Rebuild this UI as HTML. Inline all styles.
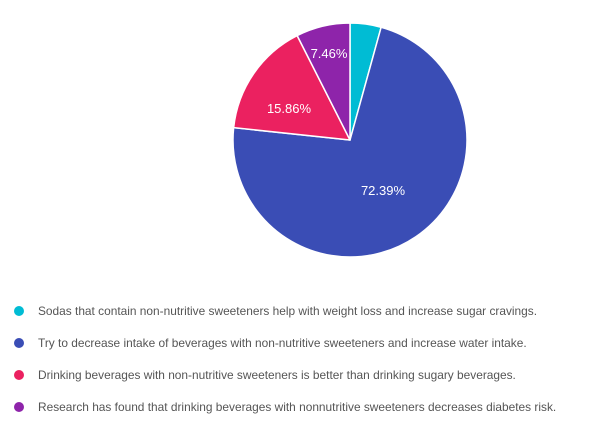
<!DOCTYPE html>
<html><head><meta charset="utf-8"><style>
body{margin:0;width:600px;height:418px;background:#fff;font-family:"Liberation Sans",sans-serif;overflow:hidden}
</style></head><body>
<svg width="600" height="418" xmlns="http://www.w3.org/2000/svg">
<g stroke="#fff" stroke-width="1.5" stroke-linejoin="round">
<path d="M350,140 L350,23 A117,117 0 0 1 381.15,27.22 Z" fill="#00bcd4"/>
<path d="M350,140 L381.15,27.22 A117,117 0 1 1 233.65,127.65 Z" fill="#3a4db5"/>
<path d="M350,140 L233.65,127.65 A117,117 0 0 1 297.18,35.6 Z" fill="#eb2160"/>
<path d="M350,140 L297.18,35.6 A117,117 0 0 1 350,23 Z" fill="#8e24aa"/>
</g>
<g fill="#fff" font-size="13" text-anchor="middle" font-family="Liberation Sans, sans-serif">
<text x="329" y="58">7.46%</text>
<text x="289" y="113">15.86%</text>
<text x="383" y="195">72.39%</text>
</g>
<g font-size="11.9" fill="#555" font-family="Liberation Sans, sans-serif">
<circle cx="19" cy="311" r="5" fill="#00bcd4"/>
<text x="38" y="315">Sodas that contain non-nutritive sweeteners help with weight loss and increase sugar cravings.</text>
<circle cx="19" cy="343" r="5" fill="#3a4db5"/>
<text x="38" y="347">Try to decrease intake of beverages with non-nutritive sweeteners and increase water intake.</text>
<circle cx="19" cy="375" r="5" fill="#eb2160"/>
<text x="38" y="379">Drinking beverages with non-nutritive sweeteners is better than drinking sugary beverages.</text>
<circle cx="19" cy="407" r="5" fill="#8e24aa"/>
<text x="38" y="411">Research has found that drinking beverages with nonnutritive sweeteners decreases diabetes risk.</text>
</g>
</svg>
</body></html>
